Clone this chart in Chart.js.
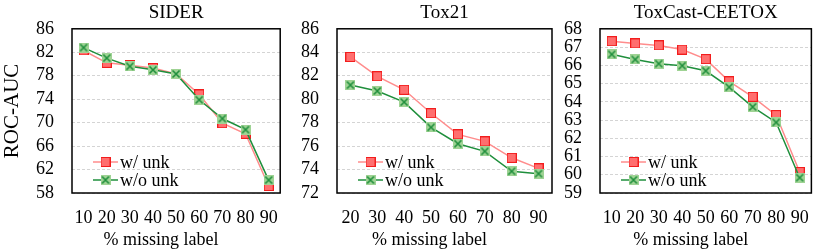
<!DOCTYPE html>
<html>
<head>
<meta charset="utf-8">
<script src="https://cdn.jsdelivr.net/npm/chart.js@4.4.1/dist/chart.umd.min.js"></script>
<style>
  body { margin: 0; background: #fff; }
  #wrap { position: relative; width: 823px; height: 251px; overflow: hidden; }
  canvas { position: absolute; top: 0; }
</style>
</head>
<body>
<div id="wrap">
  <canvas id="sider" width="292" height="251" style="left:0px"></canvas>
  <canvas id="tox21" width="270" height="251" style="left:292px"></canvas>
  <canvas id="toxcast" width="261" height="251" style="left:562px"></canvas>
</div>
<script>
// values
const siderLabels = ['10', '20', '30', '40', '50', '60', '70', '80', '90']
const siderWithUnk = [82.3, 80.2, 79.8, 79.3, 78.3, 74.8, 69.9, 68.1, 59.2]
const siderWithoutUnk = [82.8, 81.0, 79.6, 79.0, 78.3, 73.9, 70.7, 68.8, 60.2]
const siderTicks = [58, 86, 4]

const tox21Labels = ['20', '30', '40', '50', '60', '70', '80', '90']
const tox21WithUnk = [83.6, 81.95, 80.8, 78.8, 77.0, 76.4, 75.0, 74.1]
const tox21WithoutUnk = [81.2, 80.7, 79.75, 77.6, 76.2, 75.55, 73.85, 73.65]
const tox21Ticks = [72, 86, 2]

const toxcastLabels = ['10', '20', '30', '40', '50', '60', '70', '80', '90']
const toxcastWithUnk = [67.32, 67.2, 67.09, 66.86, 66.34, 65.12, 64.27, 63.27, 60.15]
const toxcastWithoutUnk = [66.6, 66.32, 66.09, 65.98, 65.7, 64.8, 63.72, 62.87, 59.84]
const toxcastTicks = [59, 68, 1]

const seriesNames = ['w/ unk', 'w/o unk']

const SERIF = '"Liberation Serif", "Times New Roman", serif'
const RED_LINE = '#ff8c8c'
const GREEN_LINE = '#1f8f3c'

// marker images (Excel style: filled square, and x on a light green square)
function squareMarker() {
  const c = document.createElement('canvas')
  c.width = 10; c.height = 10
  const g = c.getContext('2d')
  g.fillStyle = '#ff6f6f'
  g.fillRect(0.5, 0.5, 9, 9)
  g.strokeStyle = '#f21d1d'
  g.lineWidth = 1
  g.strokeRect(0.5, 0.5, 9, 9)
  return c
}
function crossMarker() {
  const c = document.createElement('canvas')
  c.width = 10; c.height = 10
  const g = c.getContext('2d')
  g.fillStyle = '#9fd394'
  g.fillRect(0, 0, 10, 10)
  g.strokeStyle = '#1f8f3c'
  g.lineWidth = 1.6
  g.beginPath()
  g.moveTo(1.5, 1.5); g.lineTo(8.5, 8.5)
  g.moveTo(8.5, 1.5); g.lineTo(1.5, 8.5)
  g.stroke()
  return c
}
const redMark = squareMarker()
const greenMark = crossMarker()

const panelDecor = {
  id: 'panelDecor',
  beforeDatasetsDraw(chart) {
    const { ctx, chartArea: a } = chart
    ctx.save()
    ctx.strokeStyle = '#000'
    ctx.lineWidth = 1.5
    ctx.strokeRect(a.left, a.top, a.right - a.left, a.bottom - a.top)
    ctx.restore()
  },
  afterDraw(chart, args, opts) {
    const { ctx, chartArea: a } = chart
    ctx.save()
    // panel title
    ctx.fillStyle = '#000'
    ctx.font = '19px ' + SERIF
    ctx.textAlign = 'center'
    ctx.textBaseline = 'middle'
    ctx.fillText(opts.title, (a.left + a.right) / 2, 13)
    // legend inside the plot, bottom left
    const rows = [
      { text: seriesNames[0], color: RED_LINE, mark: redMark, y: a.bottom - 31 },
      { text: seriesNames[1], color: GREEN_LINE, mark: greenMark, y: a.bottom - 13 }
    ]
    const x0 = a.left + 21
    rows.forEach(r => {
      ctx.strokeStyle = r.color
      ctx.lineWidth = 1.5
      ctx.beginPath()
      ctx.moveTo(x0, r.y)
      ctx.lineTo(x0 + 25, r.y)
      ctx.stroke()
      ctx.drawImage(r.mark, x0 + 12.5 - 5, r.y - 5)
      ctx.fillStyle = '#000'
      ctx.font = '18px ' + SERIF
      ctx.textBaseline = 'middle'
      ctx.textAlign = 'left'
      ctx.fillText(r.text, x0 + 27, r.y + 1)
    })
    // x axis title
    ctx.font = '18px ' + SERIF
    ctx.textAlign = 'center'
    ctx.textBaseline = 'middle'
    ctx.fillStyle = '#000'
    ctx.fillText('% missing label', (a.left + a.right) / 2 - 15, 240)
    ctx.restore()
  }
}

function makePanel(id, title, labels, withUnk, withoutUnk, ticks, axisWidth, padRight, yTitle) {
  return new Chart(document.getElementById(id), {
    type: 'line',
    data: {
      labels: labels,
      datasets: [
        {
          label: seriesNames[1],
          data: withoutUnk,
          borderColor: GREEN_LINE,
          borderWidth: 1.5,
          pointStyle: greenMark,
          pointRadius: 5,
          tension: 0,
          order: 0
        },
        {
          label: seriesNames[0],
          data: withUnk,
          borderColor: RED_LINE,
          borderWidth: 1.5,
          pointStyle: redMark,
          pointRadius: 5,
          tension: 0,
          order: 1
        }
      ]
    },
    options: {
      responsive: false,
      animation: false,
      devicePixelRatio: 1,
      layout: { padding: { left: 0, right: padRight, top: 25, bottom: 0 } },
      plugins: {
        legend: { display: false },
        tooltip: { enabled: false },
        title: { display: false },
        panelDecor: { title: title }
      },
      scales: {
        x: {
          offset: true,
          grid: { display: false, drawTicks: false },
          border: { display: false },
          ticks: {
            color: '#000',
            padding: 14,
            maxRotation: 0,
            autoSkip: false,
            font: { family: SERIF, size: 18 }
          },
          afterFit(scale) { scale.height = 58 }
        },
        y: {
          min: ticks[0],
          max: ticks[1],
          grid: { color: '#d4d4d4', lineWidth: 1, drawTicks: false },
          border: { display: false, dash: [3, 2] },
          ticks: {
            stepSize: ticks[2],
            autoSkip: false,
            color: '#000',
            padding: 18,
            font: { family: SERIF, size: 18 }
          },
          title: {
            display: yTitle,
            text: 'ROC-AUC',
            color: '#000',
            font: { family: SERIF, size: 21, lineHeight: 1.2 },
            padding: { top: 0, bottom: 0 }
          },
          afterFit(scale) { scale.width = axisWidth }
        }
      }
    },
    plugins: [panelDecor]
  })
}

makePanel('sider', 'SIDER', siderLabels, siderWithUnk, siderWithoutUnk, siderTicks, 72, 1, true)
makePanel('tox21', 'Tox21', tox21Labels, tox21WithUnk, tox21WithoutUnk, tox21Ticks, 45, 7, false)
makePanel('toxcast', 'ToxCast-CEETOX', toxcastLabels, toxcastWithUnk, toxcastWithoutUnk, toxcastTicks, 38, 3, false)
</script>
</body>
</html>
